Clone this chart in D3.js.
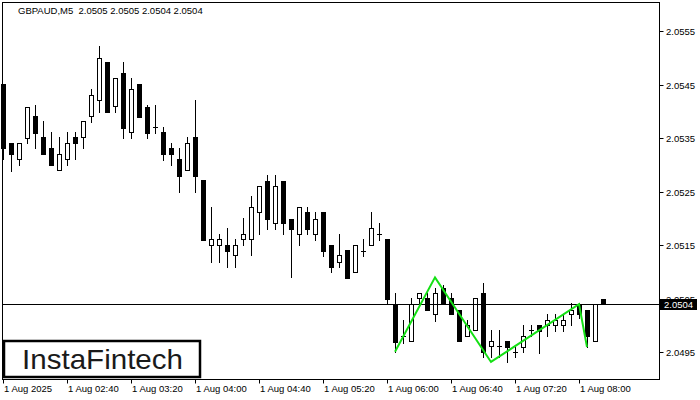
<!DOCTYPE html>
<html>
<head>
<meta charset="utf-8">
<script src="https://cdn.jsdelivr.net/npm/d3@7"></script>
<style>
html,body{margin:0;padding:0;background:#fff;}
svg{display:block;}
</style>
</head>
<body>
<svg id="chart" width="700" height="400"></svg>
<script>
// ---- data ----
const symbolTitle = "GBPAUD,M5  2.0505 2.0505 2.0504 2.0504";
const opens = [2.05452,2.05341,2.05311,2.05351,2.05392,2.05352,2.05331,2.05291,2.05311,2.05352,
  2.05352,2.05392,2.05421,2.05492,2.05411,2.05472,2.05361,2.05452,2.05409,2.05371,
  2.05362,2.05331,2.05311,2.05290,2.05352,2.05272,2.05150,2.05150,2.05150,2.05131,
  2.05161,2.05161,2.05212,2.05271,2.05191,2.05271,2.05200,2.05171,2.05212,2.05171,
  2.05212,2.05151,2.05119,2.05141,2.05101,2.05140,2.05150,2.05171,2.05162,2.05040,
  2.04980,2.04971,2.05051,2.05051,2.05021,2.05071,2.05051,2.05030,2.04980,2.04992,
  2.05060,2.04962,2.04962,2.04971,2.04951,2.04960,2.04992,2.05001,2.05001,2.05001,
  2.05001,2.05022,2.05038,2.05030,2.04971,2.05050];
const highs = [2.05452,2.05341,2.05341,2.05409,2.05412,2.05382,2.05362,2.05352,2.05362,2.05362,
  2.05382,2.05442,2.05523,2.05492,2.05462,2.05493,2.05462,2.05452,2.05412,2.05412,
  2.05371,2.05341,2.05331,2.05352,2.05422,2.05272,2.05222,2.05171,2.05182,2.05161,
  2.05201,2.05242,2.05260,2.05281,2.05281,2.05271,2.05200,2.05221,2.05222,2.05212,
  2.05212,2.05151,2.05171,2.05141,2.05151,2.05161,2.05212,2.05191,2.05162,2.05060,
  2.05010,2.05051,2.05060,2.05060,2.05071,2.05075,2.05060,2.05030,2.05010,2.05051,
  2.05080,2.04992,2.04992,2.04971,2.04960,2.05001,2.05001,2.05001,2.05022,2.05022,
  2.05022,2.05042,2.05042,2.05030,2.05040,2.05050];
const lows = [2.05311,2.05289,2.05300,2.05341,2.05331,2.05320,2.05301,2.05291,2.05301,2.05311,
  2.05331,2.05381,2.05400,2.05400,2.05400,2.05351,2.05351,2.05390,2.05351,2.05360,
  2.05310,2.05301,2.05250,2.05290,2.05250,2.05160,2.05119,2.05119,2.05110,2.05110,
  2.05150,2.05131,2.05171,2.05181,2.05181,2.05171,2.05090,2.05150,2.05171,2.05160,
  2.05130,2.05101,2.05110,2.05089,2.05101,2.05130,2.05150,2.05160,2.05040,2.04951,
  2.04967,2.04971,2.05040,2.05030,2.05009,2.05040,2.05021,2.04971,2.04980,2.04992,
  2.04942,2.04942,2.04942,2.04932,2.04941,2.04951,2.04980,2.04949,2.04980,2.04990,
  2.04990,2.05001,2.05015,2.04960,2.04971,2.05040];
const closes = [2.05331,2.05320,2.05341,2.05409,2.05360,2.05320,2.05301,2.05321,2.05341,2.05341,
  2.05382,2.05431,2.05501,2.05400,2.05462,2.05370,2.05442,2.05390,2.05360,2.05371,
  2.05320,2.05320,2.05280,2.05341,2.05280,2.05160,2.05161,2.05161,2.05140,2.05150,
  2.05171,2.05221,2.05260,2.05200,2.05260,2.05191,2.05181,2.05221,2.05181,2.05200,
  2.05140,2.05110,2.05132,2.05089,2.05151,2.05140,2.05182,2.05171,2.05050,2.04970,
  2.04981,2.05040,2.05060,2.05030,2.05060,2.05040,2.05021,2.04971,2.05001,2.05051,
  2.04951,2.04971,2.04962,2.04960,2.04951,2.04980,2.04992,2.04990,2.05010,2.05010,
  2.05010,2.05030,2.05022,2.04980,2.05040,2.05040];
const priceTicks = [2.0495, 2.0505, 2.0515, 2.0525, 2.0535, 2.0545, 2.0555];
const timeTickIndex = [0, 8, 16, 24, 32, 40, 48, 56, 64, 72];
const timeTickLabels = ["1 Aug 2025","1 Aug 02:40","1 Aug 03:20","1 Aug 04:00","1 Aug 04:40",
  "1 Aug 05:20","1 Aug 06:00","1 Aug 06:40","1 Aug 07:20","1 Aug 08:00"];
const currentPrice = 2.0504;
const patternIndex = [49, 54, 61, 72, 73];
const patternPrice = [2.04951, 2.05090, 2.04932, 2.05040, 2.04960];
const logoText = "InstaFintech";

// ---- drawing ----
const svg = d3.select("#chart");
const plotL = 2.5, plotR = 659.5, plotT = 2.5, plotB = 379.5;

const x = d3.scaleLinear().domain([0, 75]).range([3, 603]);
const y = d3.scaleLinear().domain([2.0495, 2.0555]).range([352.3, 31.3]);

const bars = opens.map((o, i) => ({i, o, h: highs[i], l: lows[i], c: closes[i]}));

const gPlot = svg.append("g");
// wicks
gPlot.selectAll("line.wick").data(bars).enter().append("line")
  .attr("x1", d => Math.round(x(d.i)) + 0.5)
  .attr("x2", d => Math.round(x(d.i)) + 0.5)
  .attr("y1", d => Math.round(y(d.h)))
  .attr("y2", d => Math.round(y(d.l)) + 1)
  .attr("stroke", "#000").attr("stroke-width", 1);

// bodies
bars.forEach(d => {
  const cx = Math.round(x(d.i));
  const top = Math.round(y(Math.max(d.o, d.c)));
  const bot = Math.round(y(Math.min(d.o, d.c)));
  if (bot - top < 1) {
    gPlot.append("line")
      .attr("x1", cx - 2).attr("x2", cx + 3)
      .attr("y1", top + 0.5).attr("y2", top + 0.5)
      .attr("stroke", "#000").attr("stroke-width", 1);
  } else if (d.c < d.o) {
    gPlot.append("rect")
      .attr("x", cx - 2).attr("y", top)
      .attr("width", 5).attr("height", bot - top + 1)
      .attr("fill", "#000");
  } else {
    gPlot.append("rect")
      .attr("x", cx - 1.5).attr("y", top + 0.5)
      .attr("width", 4).attr("height", bot - top)
      .attr("fill", "#fff").attr("stroke", "#000").attr("stroke-width", 1);
  }
});

// current price line
const yCur = Math.round(y(currentPrice)) + 0.5;
svg.append("line")
  .attr("x1", plotL).attr("x2", plotR)
  .attr("y1", yCur).attr("y2", yCur)
  .attr("stroke", "#000").attr("stroke-width", 1);

// pattern line
const pattern = patternIndex.map((idx, k) => [x(idx), y(patternPrice[k])]);
svg.append("path")
  .attr("d", d3.line()(pattern))
  .attr("fill", "none")
  .attr("stroke", "#14e014")
  .attr("stroke-width", 2)
  .attr("stroke-linejoin", "miter");

// frame
svg.append("rect")
  .attr("x", plotL).attr("y", plotT)
  .attr("width", plotR - plotL).attr("height", plotB - plotT)
  .attr("fill", "none").attr("stroke", "#000").attr("stroke-width", 1);

// price axis
const gY = svg.append("g");
priceTicks.forEach(p => {
  const yy = Math.round(y(p)) + 0.5;
  gY.append("line").attr("x1", plotR).attr("x2", plotR + 4)
    .attr("y1", yy).attr("y2", yy).attr("stroke", "#000");
  gY.append("text").attr("x", 666).attr("y", yy + 3.5)
    .attr("font-family", "'Liberation Sans', Arial, sans-serif")
    .attr("font-size", "9.5px").attr("fill", "#000")
    .text(d3.format(".4f")(p));
});
// current price box
svg.append("rect").attr("x", 660).attr("y", yCur - 5.5)
  .attr("width", 37).attr("height", 11).attr("fill", "#000");
svg.append("text").attr("x", 664).attr("y", yCur + 3.5)
  .attr("font-family", "'Liberation Sans', Arial, sans-serif")
  .attr("font-size", "9.5px").attr("fill", "#fff")
  .text(d3.format(".4f")(currentPrice));

// time axis
const gX = svg.append("g");
timeTickIndex.forEach((idx, k) => {
  const xx = Math.round(x(idx)) + 0.5;
  gX.append("line").attr("x1", xx).attr("x2", xx)
    .attr("y1", plotB).attr("y2", plotB + 4).attr("stroke", "#000");
  gX.append("text").attr("x", xx + 0.5).attr("y", 392)
    .attr("font-family", "'Liberation Sans', Arial, sans-serif")
    .attr("font-size", "9.5px").attr("fill", "#000")
    .text(timeTickLabels[k]);
});

// header
svg.append("text").attr("x", 18).attr("y", 14)
  .attr("font-family", "'Liberation Sans', Arial, sans-serif")
  .attr("font-size", "9.5px").attr("fill", "#000")
  .style("white-space", "pre")
  .text(symbolTitle);

// logo
svg.append("rect").attr("x", 4).attr("y", 341)
  .attr("width", 196).attr("height", 36)
  .attr("fill", "#fff").attr("stroke", "#000").attr("stroke-width", 2.5);
svg.append("text").attr("x", 22).attr("y", 369)
  .attr("font-family", "'Liberation Sans', Arial, sans-serif")
  .attr("font-size", "28px").attr("fill", "#1a1a1a")
  .attr("textLength", 161).attr("lengthAdjust", "spacingAndGlyphs")
  .text(logoText);
</script>
</body>
</html>
